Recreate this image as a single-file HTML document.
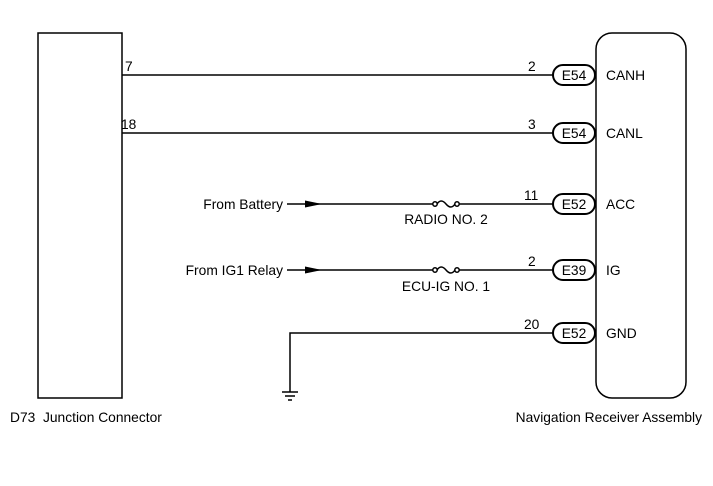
<!DOCTYPE html>
<html><head><style>
body{margin:0;background:#fff;}
svg text{font-family:"Liberation Sans",sans-serif;font-size:13.8px;fill:#000;}
</style></head><body>
<svg width="713" height="481" viewBox="0 0 713 481" xmlns="http://www.w3.org/2000/svg">
<g fill="none" stroke="#000" stroke-width="1.5">
<rect x="38" y="33" width="84" height="365"/>
<rect x="596" y="33" width="90" height="365" rx="16"/>
<line x1="122" y1="75" x2="553" y2="75"/>
<line x1="122" y1="133" x2="553" y2="133"/>
<line x1="287" y1="204" x2="433" y2="204"/>
<line x1="459" y1="204" x2="553" y2="204"/>
<line x1="287" y1="270" x2="433" y2="270"/>
<line x1="459" y1="270" x2="553" y2="270"/>
<polyline points="290,392 290,333 553,333"/>
<line x1="282" y1="392" x2="298" y2="392"/>
<line x1="285" y1="396" x2="295" y2="396"/>
<line x1="288" y1="400" x2="292" y2="400"/>
<circle cx="435" cy="204" r="2.2"/><circle cx="457" cy="204" r="2.2"/>
<path d="M437,204 Q441,198 446,204 Q451,210 455,204"/>
<circle cx="435" cy="270" r="2.2"/><circle cx="457" cy="270" r="2.2"/>
<path d="M437,270 Q441,264 446,270 Q451,276 455,270"/>
<rect x="553" y="65" width="42" height="20" rx="10" stroke-width="2"/>
<rect x="553" y="123" width="42" height="20" rx="10" stroke-width="2"/>
<rect x="553" y="194" width="42" height="20" rx="10" stroke-width="2"/>
<rect x="553" y="260" width="42" height="20" rx="10" stroke-width="2"/>
<rect x="553" y="323" width="42" height="20" rx="10" stroke-width="2"/>
</g>
<polygon points="305,200.5 322,204 305,207.5" fill="#000"/>
<polygon points="305,266.5 322,270 305,273.5" fill="#000"/>
<text x="125" y="71">7</text>
<text x="121" y="129">18</text>
<text x="528" y="71">2</text>
<text x="528" y="129">3</text>
<text x="524" y="200">11</text>
<text x="528" y="266">2</text>
<text x="524" y="329">20</text>
<text x="574" y="80" text-anchor="middle">E54</text>
<text x="574" y="138" text-anchor="middle">E54</text>
<text x="574" y="209" text-anchor="middle">E52</text>
<text x="574" y="275" text-anchor="middle">E39</text>
<text x="574" y="338" text-anchor="middle">E52</text>
<text x="606" y="80">CANH</text>
<text x="606" y="138">CANL</text>
<text x="606" y="209">ACC</text>
<text x="606" y="275">IG</text>
<text x="606" y="338">GND</text>
<text x="283" y="209" text-anchor="end">From Battery</text>
<text x="283" y="275" text-anchor="end">From IG1 Relay</text>
<text x="446" y="224" text-anchor="middle">RADIO NO. 2</text>
<text x="446" y="291" text-anchor="middle">ECU-IG NO. 1</text>
<text x="10" y="422">D73&#160; Junction Connector</text>
<text x="702" y="422" text-anchor="end">Navigation Receiver Assembly</text>
</svg>
</body></html>
